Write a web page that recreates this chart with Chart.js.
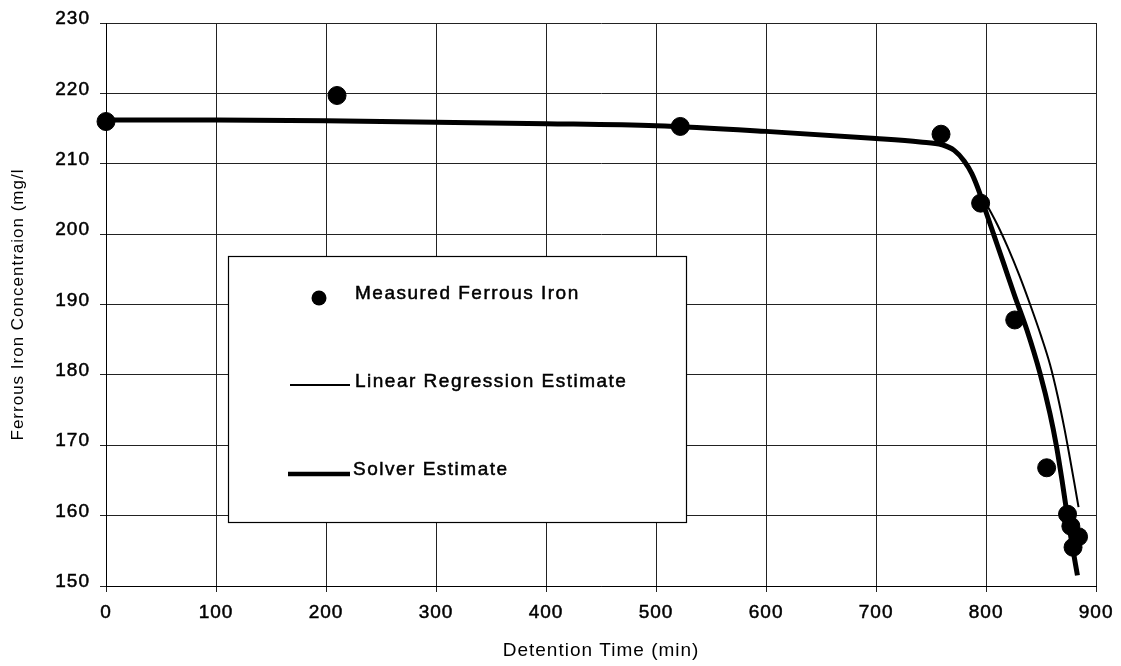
<!DOCTYPE html>
<html>
<head>
<meta charset="utf-8">
<script src="https://cdn.jsdelivr.net/npm/chart.js@4.4.1/dist/chart.umd.min.js"></script>
<style>
  html, body { margin: 0; padding: 0; background: #fff; }
  #wrap { width: 1121px; height: 666px; position: relative; }
</style>
</head>
<body>
<div id="wrap"><canvas id="ironChart"></canvas></div>
<script>
/* tick values */
const xTicks = [0, 100, 200, 300, 400, 500, 600, 700, 800, 900];
const yTicks = [150, 160, 170, 180, 190, 200, 210, 220, 230];

/* measured points */
const measuredTime = [0, 210, 522, 759, 795, 826, 855, 874, 877, 879, 884];
const measuredIron = [216.0, 219.7, 215.3, 214.2, 204.4, 187.8, 166.8, 160.2, 158.5, 155.5, 157.0];

/* linear regression estimate */
const linearTime = [0, 100, 200, 300, 400, 500, 600, 700, 740, 760, 771, 780, 787, 794, 799, 810, 820, 830, 840, 850, 858, 865, 871, 876, 880, 884];
const linearIron = [216.2, 216.2, 216.1, 215.9, 215.7, 215.4, 214.6, 213.6, 213.1, 212.7, 211.9, 210.4, 208.6, 205.9, 204.6, 201.4, 198.0, 194.2, 190.0, 185.5, 181.5, 177.0, 172.5, 168.3, 164.8, 161.2];

/* solver estimate */
const solverTime = [0, 100, 200, 300, 400, 500, 600, 700, 740, 760, 771, 780, 787, 794, 798, 807, 816, 826, 837, 849, 858, 864, 869, 873, 878, 883];
const solverIron = [216.2, 216.2, 216.1, 215.9, 215.7, 215.4, 214.6, 213.6, 213.1, 212.7, 211.9, 210.4, 208.6, 205.9, 204.0, 199.9, 195.8, 191.2, 186.4, 180.2, 174.5, 169.8, 165.0, 160.8, 156.0, 151.5];

const seriesNames = ["Measured Ferrous Iron", "Linear Regression Estimate", "Solver Estimate"];

const toPoints = (xs, ys) => xs.map((x, i) => ({ x: x, y: ys[i] }));

const FONT = "'Liberation Sans', Arial, sans-serif";

/* scanned text looks a bit wide, so space the letters */
const spacingPlugin = {
    id: 'spacing',
    beforeDraw(chart) {
        chart.ctx.letterSpacing = '1px';
    }
};

/* boxed legend sitting inside the plot */
const boxLegend = {
    id: 'boxLegend',
    afterDatasetsDraw(chart) {
        const ctx = chart.ctx;
        const a = chart.chartArea;
        const bx = a.left + 122, by = a.top + 233, bw = 458, bh = 266;
        const ds = chart.data.datasets;

        ctx.save();
        ctx.fillStyle = '#fff';
        ctx.fillRect(bx, by, bw, bh);
        ctx.strokeStyle = '#000';
        ctx.lineWidth = 1.2;
        ctx.strokeRect(bx + 0.5, by + 0.5, bw, bh);

        ctx.letterSpacing = '1.5px';
        ctx.font = '19px ' + FONT;
        ctx.fillStyle = '#000';
        ctx.textBaseline = 'middle';
        ctx.textAlign = 'left';

        const label = (text, x, y) => {
            ctx.lineWidth = 0.5;
            ctx.strokeStyle = '#000';
            ctx.strokeText(text, x, y);
            ctx.fillText(text, x, y);
        };

        // measured marker
        ctx.beginPath();
        ctx.arc(bx + 91, by + 42, 7.5, 0, Math.PI * 2);
        ctx.fillStyle = ds[0].backgroundColor;
        ctx.fill();
        ctx.fillStyle = '#000';
        label(ds[0].label, bx + 127, by + 38);

        // linear line
        ctx.beginPath();
        ctx.moveTo(bx + 62, by + 129);
        ctx.lineTo(bx + 122, by + 129);
        ctx.strokeStyle = ds[1].borderColor;
        ctx.lineWidth = 2;
        ctx.stroke();
        label(ds[1].label, bx + 127, by + 126);

        // solver line
        ctx.beginPath();
        ctx.moveTo(bx + 60, by + 218);
        ctx.lineTo(bx + 122, by + 218);
        ctx.strokeStyle = ds[2].borderColor;
        ctx.lineWidth = 4.5;
        ctx.stroke();
        label(ds[2].label, bx + 125, by + 214);
        ctx.restore();
    }
};

const ctx = document.getElementById('ironChart');
new Chart(ctx, {
    type: 'scatter',
    data: {
        datasets: [
            {
                label: seriesNames[0],
                data: toPoints(measuredTime, measuredIron),
                backgroundColor: '#000',
                borderColor: '#000',
                pointRadius: 9,
                pointHoverRadius: 9,
                showLine: false,
                clip: false
            },
            {
                label: seriesNames[1],
                data: toPoints(linearTime, linearIron),
                borderColor: '#000',
                borderWidth: 2,
                pointRadius: 0,
                showLine: true,
                cubicInterpolationMode: 'monotone'
            },
            {
                label: seriesNames[2],
                data: toPoints(solverTime, solverIron),
                borderColor: '#000',
                borderWidth: 5,
                pointRadius: 0,
                showLine: true,
                cubicInterpolationMode: 'monotone'
            }
        ]
    },
    options: {
        responsive: true,
        maintainAspectRatio: false,
        animation: false,
        layout: { padding: { top: 23, right: 23, left: 0, bottom: 0 } },
        plugins: {
            legend: { display: false },
            tooltip: { enabled: false }
        },
        scales: {
            x: {
                type: 'linear',
                min: 0,
                max: 900,
                afterBuildTicks: s => { s.ticks = xTicks.map(v => ({ value: v })); },
                afterFit: s => { s.height = 80; },
                grid: { color: '#222', lineWidth: 1, tickLength: 6 },
                border: { color: '#000', width: 1 },
                ticks: {
                    color: '#000', font: { family: FONT, size: 19 }, padding: 9, maxRotation: 0,
                    textStrokeColor: '#000', textStrokeWidth: 0.5
                },
                title: {
                    display: true,
                    text: 'Detention Time (min)',
                    color: '#000',
                    font: { family: FONT, size: 19 },
                    padding: { top: 0, bottom: 4 }
                }
            },
            y: {
                type: 'linear',
                min: 150,
                max: 230,
                afterBuildTicks: s => { s.ticks = yTicks.map(v => ({ value: v })); },
                afterFit: s => { s.width = 106; },
                grid: { color: '#222', lineWidth: 1, tickLength: 6 },
                border: { color: '#000', width: 1 },
                ticks: {
                    color: '#000', font: { family: FONT, size: 19 }, padding: 10, labelOffset: -4,
                    textStrokeColor: '#000', textStrokeWidth: 0.5
                },
                title: {
                    display: true,
                    text: 'Ferrous Iron Concentraion (mg/l',
                    color: '#000',
                    font: { family: FONT, size: 17 },
                    padding: { top: 8, bottom: 0 }
                }
            }
        }
    },
    plugins: [spacingPlugin, boxLegend]
});
</script>
</body>
</html>
